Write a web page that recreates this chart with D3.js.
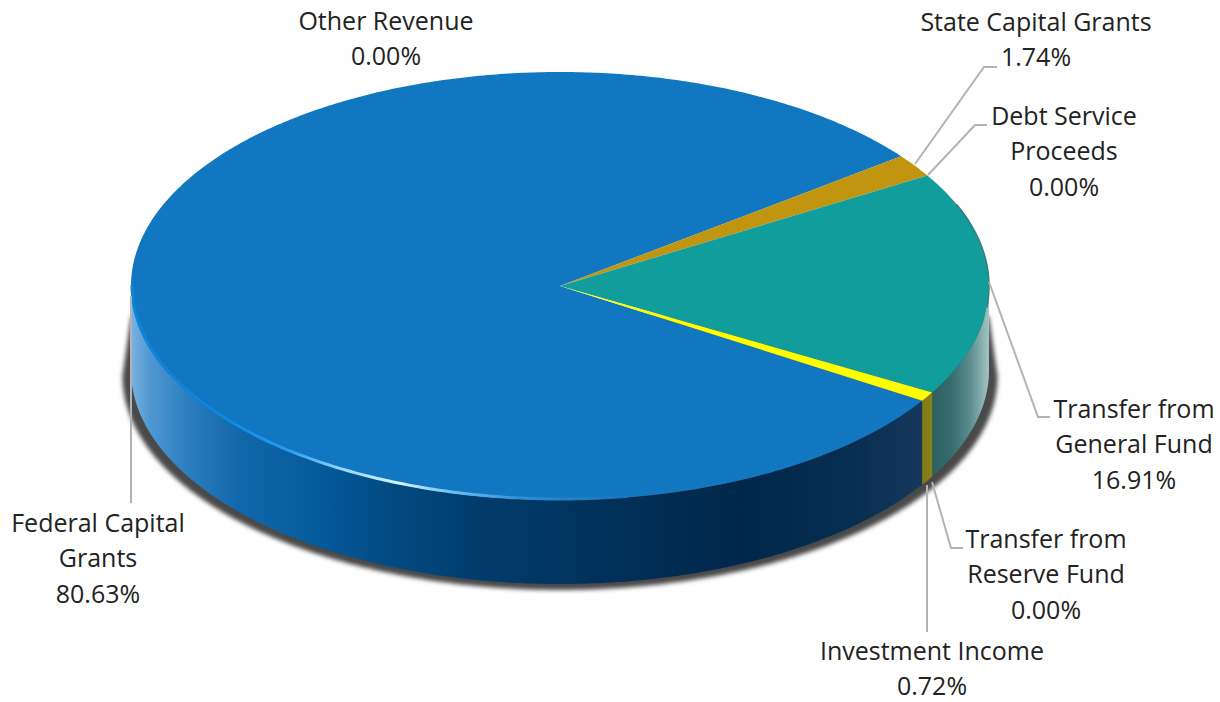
<!DOCTYPE html>
<html>
<head>
<meta charset="utf-8">
<script src="https://cdn.jsdelivr.net/npm/d3@7"></script>
<style>
html, body { margin: 0; padding: 0; background: #fff; }
svg { display: block; }
text { font-family: "Open Sans", sans-serif; font-size: 25px; fill: #222; }
</style>
</head>
<body>
<svg id="chart" width="1220" height="702"></svg>
<script>
// data, in clockwise order from the Federal slice
const categories = ["Federal Capital Grants", "Other Revenue", "State Capital Grants", "Debt Service Proceeds", "Transfer from General Fund", "Transfer from Reserve Fund", "Investment Income"];
const values = [80.63, 0.00, 1.74, 0.00, 16.91, 0.00, 0.72];
const labelLines = [["Federal Capital", "Grants"], ["Other Revenue"], ["State Capital Grants"], ["Debt Service", "Proceeds"], ["Transfer from", "General Fund"], ["Transfer from", "Reserve Fund"], ["Investment Income"]];

const topColors = ["#1277c1", "#1277c1", "#c1950f", "#c1950f", "#119d9b", "#119d9b", "#ffff00"];

// label placement: centre x, first baseline, leader polyline
const labelPos = [
	{x: 98, y: 532, leader: [[131, 296], [131, 503]]},
	{x: 386, y: 30, leader: null},
	{x: 1036, y: 31, leader: [[915, 164], [984, 67], [997, 67]]},
	{x: 1064, y: 125, leader: [[928, 175], [975, 125], [987, 125]]},
	{x: 1134, y: 418, leader: [[989, 282], [1038, 417], [1050, 417]]},
	{x: 1046, y: 548, leader: [[932, 482], [951, 548], [963, 548]]},
	{x: 932, y: 660, leader: [[927, 485], [927, 632]]}
];

const cx = 560, cy = 286, rx = 429, ry = 214, depth = 84;
const startDeg = 122.4;
const lineStep = 35.4;

// unit circle on to the squashed disc, angle clockwise from top
const scaleX = d3.scaleLinear().domain([-1, 1]).range([cx - rx, cx + rx]);
const scaleY = d3.scaleLinear().domain([-1, 1]).range([cy - ry, cy + ry]);
const px = a => scaleX(Math.sin(a));
const py = a => scaleY(-Math.cos(a));

const pie = d3.pie().sort(null).value(d => d)
	.startAngle(startDeg * Math.PI / 180)
	.endAngle(startDeg * Math.PI / 180 + 2 * Math.PI);
const slices = pie(values);

function arcPoints(a0, a1, dy) {
	const n = Math.max(2, Math.ceil(Math.abs(a1 - a0) / 0.01));
	return d3.range(n + 1).map(i => {
		const a = a0 + (a1 - a0) * i / n;
		return [px(a), py(a) + dy];
	});
}
const line = d3.line();

const svg = d3.select("#chart");
const defs = svg.append("defs");

defs.append("filter").attr("id", "shadowBlur").attr("x", "-10%").attr("y", "-10%").attr("width", "120%").attr("height", "120%")
	.append("feGaussianBlur").attr("stdDeviation", 2.2);
defs.append("filter").attr("id", "softBlur").attr("filterUnits", "userSpaceOnUse").attr("x", 0).attr("y", 0).attr("width", 1220).attr("height", 702)
	.append("feGaussianBlur").attr("stdDeviation", 0.7);

function addGradient(id, stops) {
	let g = defs.append("linearGradient").attr("id", id)
		.attr("gradientUnits", "userSpaceOnUse")
		.attr("x1", cx - rx).attr("x2", cx + rx).attr("y1", 0).attr("y2", 0);
	stops.forEach(s => {
		g.append("stop").attr("offset", (s[0] - (cx - rx)) / (2 * rx)).attr("stop-color", s[1]).attr("stop-opacity", s[2] === undefined ? 1 : s[2]);
	});
}
addGradient("sideBlue", [[131, "#7ab3e0"], [150, "#4f97d2"], [190, "#2a7dbe"], [240, "#1267aa"], [320, "#055a9c"], [400, "#02487f"], [480, "#013c6c"], [600, "#01315a"], [740, "#00274a"], [860, "#082f52"], [925, "#17385e"]]);
addGradient("sideTeal", [[925, "#2b5d5d"], [950, "#356b6b"], [970, "#5b8c8c"], [989, "#a4c4c4"]]);
addGradient("sideYellow", [[920, "#7f7a14"], [935, "#87821a"]]);
addGradient("rim", [[131, "#0a84dc"], [220, "#0a86e0"], [290, "#2a9cf0"], [340, "#8fd4ff"], [400, "#d8f2ff"], [450, "#6fc0f5"], [520, "#2f8fd8"], [620, "#1a78bd", 0.7], [720, "#1277c1", 0]]);

// shadow under the disc, a bit wider than the wall
const shadowOuter = arcPoints(Math.PI * 1.5, Math.PI * 0.5, depth + 6).map(p => [cx + (p[0] - cx) * 1.02, p[1]]);
svg.append("path")
	.attr("d", line(shadowOuter) + "L" + [px(Math.PI * 0.5), py(Math.PI * 0.5) + 30] + "L" + [px(Math.PI * 1.5), py(Math.PI * 1.5) + 30] + "Z")
	.attr("fill", "#4a4a4a")
	.attr("filter", "url(#shadowBlur)");

// side wall, only the part of each slice that faces the viewer
const sideFill = {0: "url(#sideBlue)", 4: "url(#sideTeal)", 6: "url(#sideYellow)"};
slices.forEach((s, i) => {
	if (s.endAngle - s.startAngle === 0) return;
	let ranges = [[Math.PI / 2, Math.PI * 1.5], [Math.PI * 2.5, Math.PI * 3.5]];
	ranges.forEach(r => {
		let a0 = Math.max(s.startAngle, r[0]);
		let a1 = Math.min(s.endAngle, r[1]);
		if (a1 <= a0) return;
		let pts = arcPoints(a0, a1, 0).concat(arcPoints(a1, a0, depth));
		svg.append("path")
			.attr("d", line(pts) + "Z")
			.attr("fill", sideFill[i] || topColors[i]);
	});
});

// top face
slices.forEach((s, i) => {
	if (s.endAngle - s.startAngle === 0) return;
	let pts = [[px(0), scaleY(0)]].concat(arcPoints(s.startAngle, s.endAngle, 0));
	svg.append("path")
		.attr("d", line(pts) + "Z")
		.attr("fill", topColors[i]);
});

// light bevel along the front edge of the top face
svg.append("path")
	.attr("d", line(arcPoints(Math.PI * 1.5, Math.PI * 0.95, 0).map(p => [p[0] + 1, p[1] - 1])))
	.attr("fill", "none")
	.attr("stroke", "url(#rim)")
	.attr("stroke-width", 3)
	.attr("filter", "url(#softBlur)");
// darker edge on the right of the green slice
svg.append("path")
	.attr("d", line(arcPoints(slices[4].startAngle - 2 * Math.PI + 0.15, Math.PI / 2 + 0.1, 0)))
	.attr("fill", "none")
	.attr("stroke", "#3c7d7c")
	.attr("stroke-width", 1.5)
	.attr("filter", "url(#softBlur)");

// leaders
labelPos.forEach(l => {
	if (!l.leader) return;
	svg.append("path")
		.attr("d", line(l.leader))
		.attr("fill", "none")
		.attr("stroke", "#b3b3b3")
		.attr("stroke-width", 2);
});

// labels
categories.forEach((c, i) => {
	let t = svg.append("text").attr("text-anchor", "middle");
	let rows = labelLines[i].concat([values[i].toFixed(2) + "%"]);
	rows.forEach((r, k) => {
		t.append("tspan").attr("x", labelPos[i].x).attr("y", labelPos[i].y + k * lineStep).text(r);
	});
});
</script>
</body>
</html>
